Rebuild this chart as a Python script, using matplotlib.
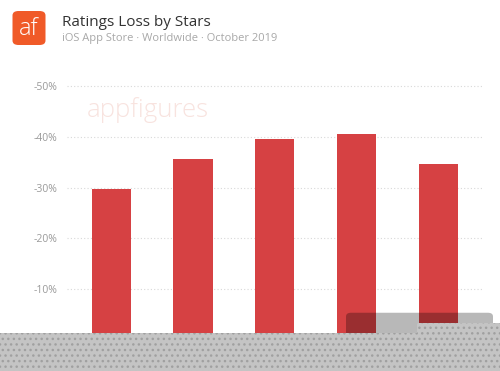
import matplotlib.pyplot as plt
from matplotlib.patches import Rectangle, FancyBboxPatch
import numpy as np

# data (ratings loss, percent)
stars = ['1 Star', '2 Stars', '3 Stars', '4 Stars', '5 Stars']
loss = [-29.8, -35.7, -39.5, -40.6, -34.6]
yticks = [-50, -40, -30, -20, -10]

plt.rcParams['font.family'] = ['Open Sans', 'DejaVu Sans']

fig = plt.figure(figsize=(5, 3.71), dpi=100)
ax = fig.add_axes([0.1334, 0.0, 0.8326, 0.7844])

x = np.arange(len(stars))
ax.bar(x, loss, width=0.48, color='#d64143', zorder=3)

ax.set_xlim(-0.544, 4.545)
ax.set_ylim(6.08, -51.2)
ax.set_yticks(yticks)
ax.set_yticklabels(['{}%'.format(v) for v in yticks])
# category labels sit under the grey overlay in the screenshot
ax.set_xticks(x)
ax.set_xticklabels([])
ax.tick_params(axis='y', length=0, pad=7, labelsize=7.5, labelcolor='#9a9a9a')
ax.tick_params(axis='x', length=0)
ax.yaxis.grid(True, color='#d8d8d8', linewidth=0.8, linestyle=(0, (1, 2)))
ax.set_axisbelow(True)
for s in ax.spines.values():
    s.set_visible(False)

# watermark
fig.text(0.296, 0.7035, 'appfigures', fontsize=18.5, color='#f8e3df',
         fontweight='light', ha='center', va='center', zorder=1)

# header
logo = FancyBboxPatch((12.5 / 500, 1 - 45 / 371), 33 / 500, 34 / 371,
                      boxstyle='round,pad=0,rounding_size=0.012',
                      transform=fig.transFigure, facecolor='#f05a28',
                      edgecolor='none')
fig.add_artist(logo)
fig.text(29 / 500, 1 - 29 / 371, 'af', fontsize=17, color='white',
         fontweight='light', ha='center', va='center')
fig.text(62 / 500, 1 - 26 / 371, 'Ratings Loss by Stars', fontsize=11,
         color='#333333', va='baseline')
fig.text(62 / 500, 1 - 41.5 / 371, 'iOS App Store \u00b7 Worldwide \u00b7 October 2019',
         fontsize=8, color='#a8a8a8', va='baseline')

# grey overlay at the bottom of the screenshot
box = FancyBboxPatch((346 / 500, 0.09), 147 / 500, 0.157 - 0.09,
                     boxstyle='round,pad=0,rounding_size=0.01',
                     transform=fig.transFigure, facecolor='black', alpha=0.28,
                     edgecolor='none', zorder=5)
fig.add_artist(box)
plt.rcParams['hatch.color'] = '#a0a0a0'
band = Rectangle((0, 0), 1, (371 - 332.7) / 371, transform=fig.transFigure,
                 facecolor='#c4c4c4', edgecolor='#a0a0a0', linewidth=0,
                 hatch='...', zorder=6)
fig.add_artist(band)
band2 = Rectangle((417 / 500, 0), 83 / 500, (371 - 323) / 371,
                  transform=fig.transFigure, facecolor='#c4c4c4',
                  edgecolor='#a0a0a0', linewidth=0, hatch='...', zorder=6)
fig.add_artist(band2)

fig.savefig('out.png', dpi=100)
